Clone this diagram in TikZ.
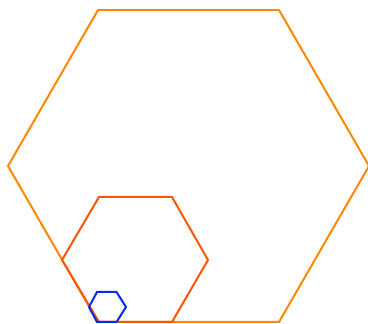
\documentclass[tikz,border=0pt]{standalone}
\definecolor{bigorange}{RGB}{255,136,0}
\definecolor{midorange}{RGB}{255,85,0}
\definecolor{smallblue}{RGB}{0,40,255}
\begin{document}
\begin{tikzpicture}[x=1pt,y=-1pt,
  hexline/.style={line width=2pt,line join=miter}]
\useasboundingbox (0,0) rectangle (368,324);
\draw[hexline,bigorange] (98,10) -- (279,10) -- (369,166) -- (279,322) -- (98,322) -- (8,166) -- cycle;
\draw[hexline,midorange] (99,197) -- (172,197) -- (208,260) -- (172,322) -- (99,322) -- (62,260) -- cycle;
\draw[hexline,smallblue] (97,292) -- (116.5,292) -- (126,307) -- (116.5,322) -- (97,322) -- (89,307) -- cycle;
\end{tikzpicture}
\end{document}
